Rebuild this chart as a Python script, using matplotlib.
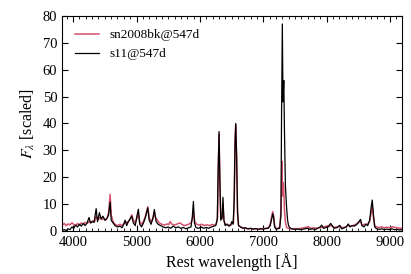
import numpy as np
import matplotlib
matplotlib.use('Agg')
import matplotlib.pyplot as plt
from matplotlib.ticker import MultipleLocator

plt.rcParams['font.family'] = ['Liberation Serif', 'DejaVu Serif']
plt.rcParams['mathtext.fontset'] = 'stix'

# s11@547d model spectrum
wl_model = [3830, 3860, 3890, 3920, 3950, 3980, 4010, 4040, 4070, 4100, 4130, 4160, 4190, 4220,
            4250, 4275, 4300, 4330, 4363, 4385, 4415, 4440, 4470, 4500, 4530, 4560, 4584, 4600,
            4630, 4660, 4700, 4740, 4770, 4800, 4820, 4845, 4870, 4900, 4925, 4950, 4980, 5010,
            5030, 5050, 5080, 5110, 5140, 5178, 5200, 5230, 5260, 5282, 5310, 5340, 5380, 5420,
            5460, 5500, 5540, 5580, 5620, 5660, 5700, 5740, 5780, 5820, 5860, 5880, 5898, 5915,
            5940, 5980, 6020, 6060, 6100, 6140, 6180, 6220, 6250, 6275, 6290, 6303, 6315, 6330,
            6350, 6365, 6380, 6400, 6430, 6460, 6490, 6505, 6525, 6540, 6555, 6566, 6580, 6595,
            6610, 6640, 6680, 6720, 6760, 6800, 6840, 6880, 6920, 6960, 7000, 7040, 7080, 7110,
            7130, 7150, 7165, 7180, 7200, 7230, 7260, 7280, 7290, 7302, 7312, 7325, 7335, 7350,
            7370, 7385, 7400, 7420, 7450, 7500, 7550, 7600, 7650, 7700, 7740, 7780, 7820, 7860,
            7900, 7922, 7950, 7990, 8020, 8065, 8090, 8120, 8160, 8208, 8240, 8280, 8310, 8343,
            8370, 8400, 8440, 8480, 8510, 8537, 8560, 8590, 8620, 8650, 8680, 8705, 8721, 8740,
            8760, 8790, 8830, 8870, 8910, 8950, 8990, 9030, 9070, 9110, 9150, 9190]
f_model = [0.3, 0.5, 0.2, 0.8, 0.5, 1.5, 1.0, 2.2, 1.5, 2.5, 1.8, 2.8, 2.0, 3.0,
           5.0, 3.0, 3.5, 3.2, 8.3, 3.5, 6.8, 4.5, 5.5, 4.0, 4.5, 6.0, 10.8, 4.0,
           3.0, 2.0, 1.5, 1.8, 1.2, 2.5, 4.0, 2.0, 3.5, 4.5, 5.5, 3.0, 2.0, 6.0,
           8.1, 2.5, 1.5, 3.0, 5.0, 8.6, 4.0, 2.5, 5.0, 8.0, 3.5, 2.5, 2.0, 1.5,
           1.2, 1.5, 1.0, 1.8, 1.2, 1.5, 1.0, 1.3, 0.8, 1.2, 1.5, 5.0, 11.0, 3.0,
           1.2, 1.0, 1.5, 1.0, 1.3, 1.0, 1.5, 1.8, 2.0, 4.5, 24, 37, 20, 4,
           5, 12.5, 4, 2.0, 2.5, 1.8, 2.5, 3.5, 2.5, 10, 32, 40, 28, 7,
           2.0, 1.5, 1.0, 1.2, 0.8, 1.0, 0.7, 0.9, 0.6, 0.8, 0.7, 0.9, 1.0, 2.0,
           4.0, 6.4, 5.0, 1.5, 0.7, 0.8, 1.0, 6.0, 45, 77, 48, 56, 38, 17,
           8.4, 4, 2.0, 1.2, 0.8, 0.6, 0.7, 0.5, 0.8, 1.0, 0.6, 0.8, 0.5, 1.0,
           1.5, 2.2, 1.0, 1.3, 1.5, 2.8, 2.0, 1.0, 1.2, 2.1, 0.8, 1.2, 1.5, 2.6,
           1.5, 2.0, 1.8, 2.5, 3.5, 4.3, 2.0, 1.5, 2.5, 2.0, 4.0, 9, 11.5, 6,
           1.5, 0.8, 0.6, 0.8, 0.5, 0.7, 0.5, 0.8, 0.5, 0.6, 0.4, 0.5]

wl_obs = [3830, 3860, 3890, 3920, 3950, 3980, 4010, 4040, 4070, 4100, 4130, 4160, 4190, 4220,
          4250, 4280, 4310, 4340, 4363, 4390, 4420, 4450, 4480, 4510, 4540, 4560, 4584, 4600,
          4630, 4660, 4700, 4740, 4770, 4800, 4830, 4860, 4900, 4925, 4950, 4980, 5010, 5030,
          5050, 5080, 5110, 5140, 5178, 5200, 5230, 5260, 5282, 5300, 5330, 5360, 5400, 5440,
          5480, 5510, 5530, 5560, 5600, 5640, 5687, 5720, 5750, 5790, 5830, 5860, 5880, 5898,
          5920, 5950, 5990, 6030, 6070, 6110, 6150, 6190, 6230, 6260, 6280, 6290, 6303, 6315,
          6330, 6350, 6365, 6380, 6400, 6430, 6460, 6490, 6510, 6530, 6545, 6555, 6566, 6580,
          6595, 6610, 6640, 6680, 6720, 6760, 6800, 6840, 6880, 6920, 6960, 7000, 7040, 7080,
          7110, 7130, 7150, 7165, 7180, 7200, 7230, 7260, 7280, 7295, 7305, 7312, 7322, 7335,
          7350, 7370, 7400, 7450, 7500, 7550, 7600, 7650, 7711, 7750, 7800, 7850, 7900, 7950,
          8000, 8040, 8065, 8100, 8140, 8180, 8220, 8260, 8300, 8340, 8380, 8420, 8460, 8500,
          8537, 8560, 8600, 8640, 8680, 8705, 8721, 8740, 8760, 8790, 8830, 8870, 8910, 8950,
          8990, 9040, 9080, 9120, 9160, 9190]
f_obs = [2.2, 2.8, 2.0, 2.6, 2.3, 3.0, 2.5, 2.0, 2.8, 2.2, 3.0, 2.5, 3.2, 2.8,
         3.5, 3.0, 3.8, 3.5, 5.5, 4.0, 5.0, 4.2, 4.8, 4.0, 5.0, 7.0, 13.6, 6.0,
         3.5, 2.5, 2.0, 2.5, 2.0, 2.8, 3.5, 3.0, 4.5, 6.0, 4.0, 3.0, 5.0, 6.5,
         3.5, 2.5, 3.5, 5.5, 9.0, 5.0, 3.5, 4.5, 6.5, 5.0, 4.0, 3.0, 2.5, 2.2,
         2.6, 2.4, 3.5, 2.5, 2.2, 2.6, 3.0, 2.4, 2.0, 2.2, 2.6, 3.0, 4.5, 7.0,
         3.5, 2.5, 2.2, 2.5, 2.0, 2.3, 2.0, 2.4, 2.2, 2.5, 5.0, 22, 36, 20,
         4.5, 4.5, 9, 4, 2.5, 2.5, 2.0, 2.2, 3.0, 3.0, 14, 34, 39.5, 28,
         7, 2.2, 1.5, 1.2, 1.0, 0.8, 0.9, 0.7, 0.8, 0.7, 0.8, 0.9, 1.0, 1.2,
         2.5, 5.0, 7.2, 5.5, 2.0, 1.0, 1.0, 1.5, 7, 26, 13, 18, 17, 8,
         3.5, 1.2, 1.0, 0.8, 0.9, 0.8, 1.0, 1.2, 1.6, 1.0, 1.2, 1.0, 1.3, 1.5,
         1.8, 1.6, 2.2, 1.5, 1.4, 1.6, 1.5, 1.2, 1.5, 2.0, 1.8, 2.0, 2.5, 3.0,
         3.5, 2.0, 2.5, 2.5, 3.5, 7, 9.5, 5, 2.0, 1.5, 1.3, 1.5, 1.2, 1.4,
         1.2, 1.6, 1.3, 1.2, 1.0, 1.0]

fig = plt.figure(figsize=(4.11, 2.74), dpi=100)
ax = fig.add_axes([0.151, 0.157, 0.827, 0.785])

ax.plot(wl_obs, f_obs, color='#d4506c', lw=1.1, label='sn2008bk@547d')
ax.plot(wl_model, f_model, color='black', lw=0.9, label='s11@547d')

ax.set_xlim(3825, 9190)
ax.set_ylim(0, 80)
ax.xaxis.set_major_locator(MultipleLocator(1000))
ax.xaxis.set_minor_locator(MultipleLocator(100))
ax.yaxis.set_major_locator(MultipleLocator(10))
ax.tick_params(which='both', direction='in', top=True, right=True, labelsize=10.5)
ax.tick_params(which='major', length=4)
ax.tick_params(which='minor', length=2)

ax.set_xlabel('Rest wavelength [Å]', fontsize=11.5, labelpad=3)
ax.set_ylabel(r'$F_\lambda$ [scaled]', fontsize=11.5, labelpad=4)

ax.legend(loc='upper left', frameon=False, fontsize=9.5, handlelength=1.8,
          borderaxespad=0.6)

fig.savefig('out.png', dpi=100)
